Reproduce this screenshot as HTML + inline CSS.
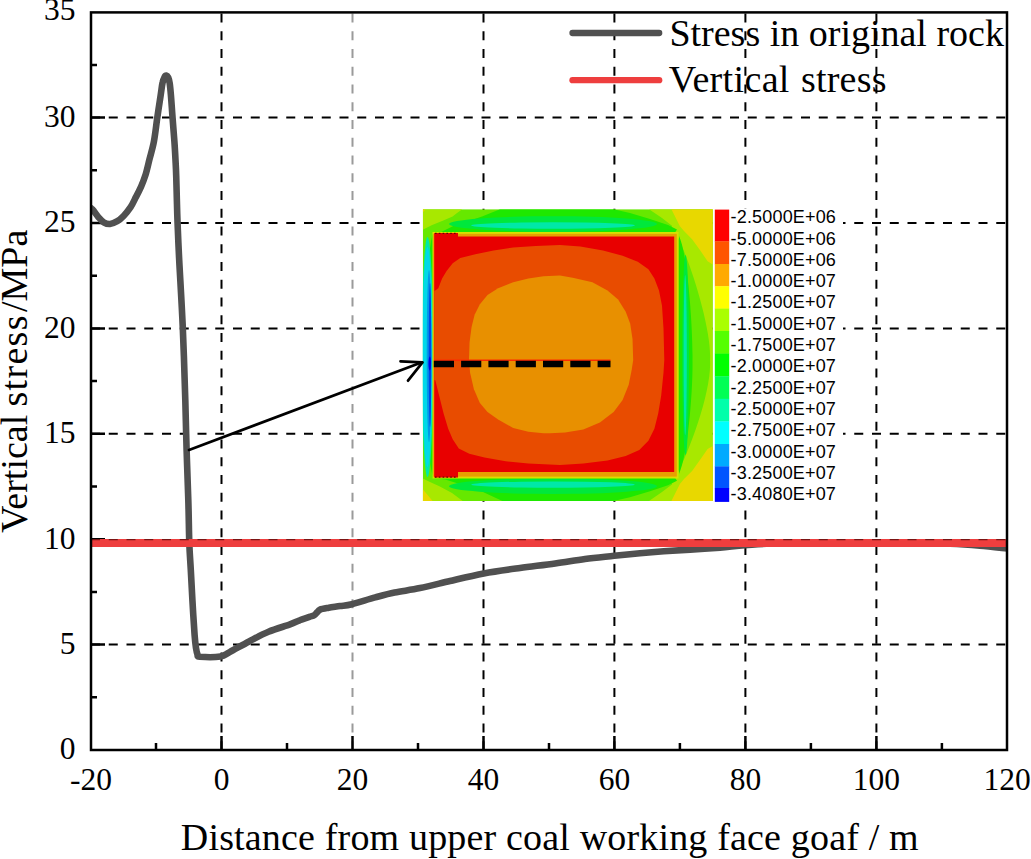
<!DOCTYPE html>
<html><head><meta charset="utf-8">
<style>
html,body{margin:0;padding:0;background:#fff;}
body{width:1031px;height:859px;overflow:hidden;}
svg{display:block;}
.serif{font-family:"Liberation Serif",serif;fill:#000;}
.sans{font-family:"Liberation Sans",sans-serif;fill:#000;}
</style></head><body>
<svg width="1031" height="859" viewBox="0 0 1031 859">
<defs>
<clipPath id="plot"><rect x="91" y="12.4" width="916" height="737.6"/></clipPath>
<clipPath id="inset"><rect x="422.8" y="209.2" width="290" height="292"/></clipPath>
</defs>
<rect width="1031" height="859" fill="#fff"/>

<!-- gridlines -->
<g id="grid" stroke="#000" stroke-width="2" stroke-dasharray="9 8.75" fill="none">
<path d="M91,644.6H1007 M91,433.8H1007 M91,328.4H1007 M91,223H1007 M91,117.6H1007"/>
<path d="M221.5,13.5V750 M483.5,13.5V750 M614.4,13.5V750 M745.4,13.5V750 M876.4,13.5V750"/>
<path stroke="#9a9a9a" d="M352.5,13.5V750"/>
</g>

<!-- ticks -->
<g stroke="#000" stroke-width="2.5" fill="none">
<path d="M91,644.6h14 M91,539.2h14 M91,433.8h14 M91,328.4h14 M91,223h14 M91,117.6h14"/>
<path d="M91,697.3h6 M91,591.9h6 M91,486.5h6 M91,381.1h6 M91,275.7h6 M91,170.3h6 M91,64.9h6"/>
<path d="M221.5,750v-14 M352.5,750v-14 M483.5,750v-14 M614.4,750v-14 M745.4,750v-14 M876.4,750v-14"/>
<path d="M156,750v-7 M287,750v-7 M418,750v-7 M549,750v-7 M679.9,750v-7 M810.9,750v-7 M941.9,750v-7"/>
</g>

<!-- INSET -->
<g id="insetg">
<rect x="713" y="209" width="130" height="293" fill="#fff"/>
<g clip-path="url(#inset)">
<rect x="422.8" y="209.2" width="289.99999999999994" height="291.8" fill="#66e800"/>
<path fill="#a8e800" d="M672.0,209.2 L712.8,209.2 L712.8,501.0 L672.0,501.0Z"/>
<path fill="#a8e800" d="M422.8,209.2 L462.3,209.2 L457.0,213.0 L452.6,216.6 L443.3,220.5 L431.6,225.2 L422.8,229.8Z"/>
<path fill="#a8e800" d="M422.8,478.4 L430.0,482.0 L439.4,486.2 L452.0,493.0 L462.7,501.0 L422.8,501.0Z"/>
<path fill="#a8e800" d="M649.0,209.2 L672.0,209.2 L680.0,226.2 L675.8,231.9 L672.6,226.2 L662.0,218.0Z"/>
<path fill="#a8e800" d="M649.0,501.0 L672.0,501.0 L680.0,484.0 L675.8,478.0 L672.6,484.0 L662.0,492.0Z"/>
<path fill="#e8d800" d="M671.4,209.2 L712.8,209.2 L712.8,264.4 L707.6,261.2 L700.3,250.6 L692.1,239.2 L684.0,231.0 L679.9,226.2Z"/>
<path fill="#e8d800" d="M671.4,501.0 L712.8,501.0 L712.8,446.0 L707.6,449.0 L700.3,459.5 L692.1,471.0 L684.0,479.0 L679.9,484.0Z"/>
<path fill="#e8d800" d="M422.8,489.2 L432.6,501.0 L422.8,501.0Z"/>
<path fill="#e8d800" d="M422.8,209.2 L425.5,209.2 L422.8,212.5Z"/>
<path fill="#1ee800" d="M500.0,209.2 L613.5,209.2 L630.0,213.0 L650.0,219.0 L668.0,225.0 L677.0,229.5 L674.0,234.0 L436.0,234.0 L441.7,231.8 L447.2,229.0 L454.9,225.2 L466.5,221.7 L482.0,216.6Z"/>
<path fill="#1ee800" d="M502.4,501.0 L613.5,501.0 L630.0,497.2 L650.0,491.2 L668.0,485.2 L677.0,480.7 L674.0,476.0 L432.6,476.0 L432.6,478.0 L445.2,479.4 L463.6,485.2 L483.0,492.0Z"/>
<ellipse cx="553" cy="224" rx="104" ry="7.8" fill="#00e83c"/>
<ellipse cx="553" cy="225.5" rx="82" ry="3.2" fill="#00e8a8"/>
<ellipse cx="553" cy="486.2" rx="104" ry="7.8" fill="#00e83c"/>
<ellipse cx="553" cy="484.6" rx="82" ry="3.2" fill="#00e8a8"/>
<path fill="#66e800" d="M677,236 C690,260 712,330 710,360 C712,390 690,450 677,474 Z"/>
<path fill="#1ee800" d="M679,236 C688,255 693,330 692.5,360 C693,390 688,455 679,474 Z"/>
<ellipse cx="685.6" cy="355" rx="3.4" ry="100" fill="#00e83c"/>
<ellipse cx="685.2" cy="355" rx="1.6" ry="80" fill="#00e8a8"/>
<path fill="#1ee800" d="M434,232 C428,240 426,300 426,355 C426,410 428,470 434,478 Z"/>
<ellipse cx="427.5" cy="357" rx="5.8" ry="120" fill="#00e8a8"/>
<ellipse cx="427.4" cy="357" rx="4.8" ry="110" fill="#00d8e8"/>
<ellipse cx="429" cy="356" rx="2.3" ry="86" fill="#0098e8"/>
<ellipse cx="430" cy="355" rx="1.3" ry="72" fill="#0048e8"/>
<ellipse cx="429.8" cy="363.5" rx="1.3" ry="7" fill="#0000e8"/>
<rect x="432.5" y="232" width="246" height="246.5" fill="#d8e000"/>
<rect x="433.2" y="233.8" width="243.6" height="242.8" fill="#e8a000"/>
<path fill="#e80000" d="M434.2,233.0 L458.0,233.0 L458.0,236.6 L674.2,236.6 L674.2,472.0 L458.0,472.0 L458.0,477.6 L434.2,477.6Z"/>
<path d="M435,233.4H457.5 M435,477.2H457.5" stroke="#5a1000" stroke-width="1.2" stroke-dasharray="1.6 2.2"/>
<path fill="#e84c00" d="M435.3,290.5 L438.3,288.3 L442.1,278.4 L446.6,270.9 L452.7,263.3 L460.3,258.0 L475.4,254.2 L493.6,250.4 L513.2,247.4 L535.9,245.9 L560.0,245.1 L580.3,246.6 L603.0,250.4 L622.6,255.7 L637.8,261.8 L648.4,269.3 L654.4,278.4 L659.0,290.5 L662.0,305.7 L663.5,328.4 L664.3,360.0 L663.5,372.7 L661.2,395.4 L658.2,413.6 L654.4,428.7 L648.4,440.8 L639.3,449.9 L625.7,455.9 L607.5,460.5 L583.3,463.5 L560.0,465.0 L528.4,463.5 L505.7,461.2 L484.5,457.4 L469.3,453.7 L458.8,448.4 L452.7,439.3 L448.2,428.7 L443.6,413.6 L439.1,395.4 L435.3,380.3 L434.2,380.0 L434.2,291.0Z"/>
<path fill="#e89000" d="M469.0,360.0 L469.6,342.0 L471.6,326.9 L474.6,314.7 L479.9,304.2 L487.5,295.1 L498.1,288.3 L513.2,282.2 L528.4,278.4 L543.5,276.2 L560.0,275.4 L572.7,277.7 L592.4,282.2 L607.5,290.5 L618.1,299.6 L625.7,311.7 L630.2,323.8 L632.5,339.0 L633.2,360.0 L631.7,369.7 L628.7,384.8 L622.6,399.9 L613.6,412.0 L599.9,422.6 L583.3,429.4 L565.1,432.5 L550.0,433.2 L543.5,433.2 L528.4,431.7 L513.2,427.9 L498.1,419.6 L487.5,412.0 L479.9,403.0 L473.9,389.3 L470.1,372.7Z"/>
<path d="M434,360.2H610.5" stroke="#ff2a00" stroke-width="1.6"/>
<path d="M433.8,364H610.5" stroke="#000" stroke-width="6.6" stroke-dasharray="20.2 7.1"/>
</g>
<rect x="713" y="209.2" width="1.8" height="292.4" fill="#fff"/>
<rect x="714.8" y="209.6" width="14.4" height="32.0" fill="#ff0000"/>
<rect x="714.8" y="241.3" width="14.4" height="23.0" fill="#ff5500"/>
<rect x="714.8" y="264.0" width="14.4" height="22.5" fill="#ffaa00"/>
<rect x="714.8" y="286.2" width="14.4" height="22.7" fill="#ffff00"/>
<rect x="714.8" y="308.6" width="14.4" height="22.7" fill="#aaff00"/>
<rect x="714.8" y="331.0" width="14.4" height="22.9" fill="#55ff00"/>
<rect x="714.8" y="353.6" width="14.4" height="22.9" fill="#00ff00"/>
<rect x="714.8" y="376.2" width="14.4" height="22.9" fill="#00ff55"/>
<rect x="714.8" y="398.8" width="14.4" height="22.9" fill="#00ffaa"/>
<rect x="714.8" y="421.4" width="14.4" height="22.9" fill="#00ffff"/>
<rect x="714.8" y="444.0" width="14.4" height="22.7" fill="#00aaff"/>
<rect x="714.8" y="466.4" width="14.4" height="21.9" fill="#0055ff"/>
<rect x="714.8" y="488.0" width="14.4" height="13.9" fill="#0000ff"/>
<g class="sans" font-size="18" letter-spacing="0.17">
<text x="730.6" y="223.2">-2.5000E+06</text>
<text x="730.6" y="244.5">-5.0000E+06</text>
<text x="730.6" y="265.8">-7.5000E+06</text>
<text x="730.6" y="287.1">-1.0000E+07</text>
<text x="730.6" y="308.4">-1.2500E+07</text>
<text x="730.6" y="329.7">-1.5000E+07</text>
<text x="730.6" y="351.0">-1.7500E+07</text>
<text x="730.6" y="372.3">-2.0000E+07</text>
<text x="730.6" y="393.6">-2.2500E+07</text>
<text x="730.6" y="414.9">-2.5000E+07</text>
<text x="730.6" y="436.2">-2.7500E+07</text>
<text x="730.6" y="457.5">-3.0000E+07</text>
<text x="730.6" y="478.8">-3.2500E+07</text>
<text x="730.6" y="500.1">-3.4080E+07</text>
</g>
</g>

<!-- curves -->
<g clip-path="url(#plot)" fill="none" stroke-linejoin="round">
<path stroke="#505050" stroke-width="6.6" d="M88,206.3 C88.7,206.8 90.5,207.4 92.2,209.2 C94.0,211.0 96.6,215.1 98.5,217.3 C100.4,219.5 101.8,221.2 103.7,222.3 C105.6,223.4 107.7,224.2 110,224 C112.3,223.8 115.0,222.5 117.3,221.2 C119.6,219.9 121.4,218.3 123.6,216 C125.8,213.7 128.5,210.3 130.6,207.2 C132.7,204.0 134.2,200.5 135.9,197.1 C137.7,193.7 139.5,190.2 141.1,186.6 C142.7,183.0 143.9,180.0 145.3,175.6 C146.7,171.2 147.9,165.7 149.3,160 C150.7,154.3 152.6,148.5 153.9,141.6 C155.2,134.7 156.1,126.1 157.2,118.3 C158.3,110.5 159.8,101.0 160.7,95 C161.6,89.0 161.9,85.5 162.6,82.5 C163.2,79.5 164.0,78.2 164.6,77.0 C165.2,75.8 165.8,75.5 166.4,75.6 C167.0,75.7 167.6,76.1 168.2,77.4 C168.8,78.7 169.2,80.4 169.7,83.3 C170.1,86.2 170.4,89.2 170.9,95 C171.4,100.8 172.0,110.5 172.6,118.3 C173.2,126.1 173.9,134.7 174.4,141.6 C174.9,148.5 175.2,154.3 175.5,160 C175.8,165.7 176.0,168.7 176.2,175.6 C176.4,182.5 176.7,193.3 176.9,201.3 C177.1,209.3 177.2,213.9 177.6,223.7 C178.0,233.5 178.3,242.6 179.2,260 C180.1,277.4 181.8,304.7 182.8,328 C183.8,351.3 184.7,379.7 185.3,400 C185.9,420.3 186.1,433.3 186.6,450 C187.1,466.7 187.9,484.5 188.3,500 C188.8,515.5 188.9,531.3 189.3,543 C189.7,554.7 190.3,560.5 190.8,570 C191.3,579.5 191.8,589.2 192.4,600 C193.0,610.8 194.0,627.0 194.6,635 C195.2,643.0 195.5,644.8 196,648 C196.5,651.2 196.8,653.0 197.5,654.5 C198.2,656.0 196.2,656.5 200,656.8 C203.8,657.1 215.6,657.3 220.5,656.5 C225.4,655.7 224.9,654.6 229.7,652.1 C234.5,649.6 242.6,644.9 249.1,641.5 C255.6,638.1 261.7,634.6 268.5,631.8 C275.3,628.9 284.8,626.3 290,624.4 C295.2,622.5 296.5,621.5 299.7,620.3 C302.9,619.0 307.0,617.8 309.4,616.9 C311.8,616.0 312.9,616.0 314.2,615.2 C315.5,614.4 316.2,613.2 317.2,612.3 C318.2,611.4 318.2,610.4 320.1,609.6 C322.0,608.8 325.5,608.3 328.8,607.7 C332.1,607.1 336.1,606.7 340,606.1 C343.9,605.5 346.0,605.7 351.9,604.2 C357.8,602.8 368.1,599.3 375.2,597.4 C382.3,595.5 387.1,594.1 394.6,592.6 C402.1,591.1 410.8,590.0 420,588.1 C429.2,586.2 439.4,583.5 450,581 C460.6,578.5 472.1,575.6 483.8,573.4 C495.5,571.2 508.1,569.6 520,568 C531.9,566.4 544.4,565.0 555.2,563.5 C566.0,562.0 575.2,560.3 585,559 C594.8,557.7 605.0,556.8 614.2,555.8 C623.4,554.8 631.7,554.0 640,553.3 C648.3,552.5 655.5,551.9 663.8,551.3 C672.1,550.7 680.6,550.2 690,549.6 C699.4,549.0 710.8,548.3 720,547.6 C729.2,546.9 735.0,545.9 745,545.2 C755.0,544.5 762.5,543.6 780,543.2 C797.5,542.8 830.0,542.7 850,542.6 C870.0,542.5 883.3,542.4 900,542.6 C916.7,542.8 936.7,543.1 950,543.6 C963.3,544.1 970.0,544.7 980,545.6 C990.0,546.5 1005.0,548.3 1010,548.8"/>
<path stroke="#ee3e3e" stroke-width="8" d="M91,543.1H1007"/>
</g>
<path d="M91,539.6H1007" stroke="#7a1414" stroke-width="1.4" stroke-dasharray="9 8.75" fill="none"/>

<!-- arrow -->
<g stroke="#000" stroke-width="2.7" fill="none" stroke-linecap="round" stroke-linejoin="round">
<path d="M189,449.9 L422,362.3"/>
<path d="M400.5,361.4 L422.5,362.3 L408,380.7"/>
</g>

<!-- axes frame -->
<rect x="91" y="12.4" width="916" height="737.6" fill="none" stroke="#000" stroke-width="2.5"/>

<!-- y tick labels -->
<g class="serif" font-size="31.5" text-anchor="end">
<text x="75.5" y="759">0</text>
<text x="75.5" y="654">5</text>
<text x="75.5" y="548.5">10</text>
<text x="75.5" y="443">15</text>
<text x="75.5" y="337.5">20</text>
<text x="75.5" y="232">25</text>
<text x="75.5" y="126.6">30</text>
<text x="75.5" y="20.3">35</text>
</g>
<!-- x tick labels -->
<g class="serif" font-size="31.5" text-anchor="middle">
<text x="91" y="789.7">-20</text>
<text x="221.5" y="789.7">0</text>
<text x="352.5" y="789.7">20</text>
<text x="483.5" y="789.7">40</text>
<text x="614.4" y="789.7">60</text>
<text x="745.4" y="789.7">80</text>
<text x="876.4" y="789.7">100</text>
<text x="1007" y="789.7">120</text>
</g>
<!-- axis titles -->
<text class="serif" font-size="38" x="180.8" y="849.6" letter-spacing="0.17">Distance from upper coal working face goaf / m</text>
<g class="serif" font-size="38" transform="translate(27.2,532.9) rotate(-90)"><text x="0" y="0">Vertical</text><text x="126.4" y="0" textLength="91" lengthAdjust="spacing">stress</text><text x="220.9" y="0">/MPa</text></g>

<!-- legend -->
<g fill="none" stroke-linecap="round" stroke-width="6.3">
<path stroke="#505050" d="M572.5,33H659.2"/>
<path stroke="#ee3e3e" d="M572.5,80.2H659.2"/>
</g>
<text class="serif" font-size="38" x="669.4" y="46.1">Stress in original rock</text>
<text class="serif" font-size="38" x="668.8" y="92.3" letter-spacing="0.35">Vertical</text><text class="serif" font-size="38" x="801" y="92.3" letter-spacing="0.2">stress</text>

</svg>
</body></html>
